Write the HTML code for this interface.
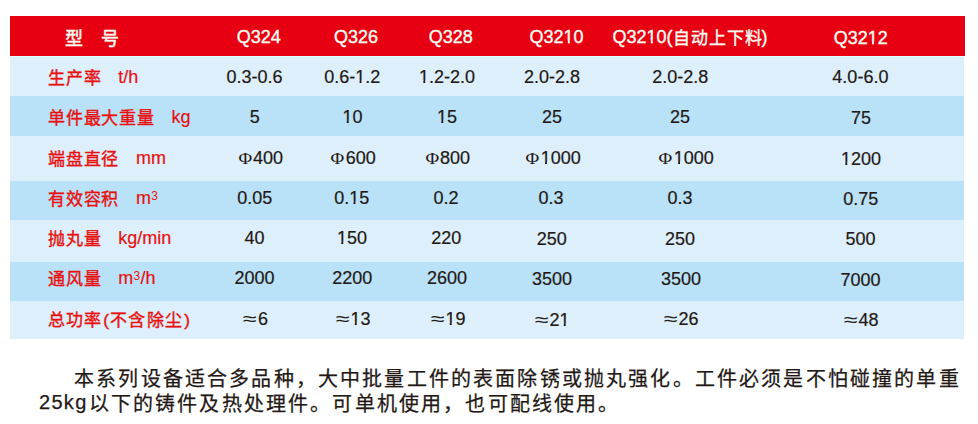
<!DOCTYPE html>
<html lang="zh-CN">
<head>
<meta charset="utf-8">
<style>
html,body{margin:0;padding:0;background:#fff;}
body{width:978px;height:424px;position:relative;overflow:hidden;font-family:"Liberation Sans",sans-serif;}
.bg{position:absolute;left:10px;width:954px;}
.hdr{top:16px;height:40px;width:955px;background:#E60012;}
.c{position:absolute;width:240px;margin-left:-120px;text-align:center;font-size:18px;line-height:20px;color:#231815;white-space:nowrap;-webkit-text-stroke:0.2px #231815;}
.h{color:#FFFBEF;font-size:18px;-webkit-text-stroke:0.4px #FFFBEF;}
.hc{font-size:17px;letter-spacing:1px;position:relative;top:1px;line-height:0;margin-right:-1px;}
.hb{-webkit-text-stroke:0.5px #FFFBEF;}
.lab{position:absolute;left:48px;font-size:17px;line-height:20px;color:#E8110F;white-space:nowrap;-webkit-text-stroke:0.4px #E8110F;letter-spacing:0.75px;}
.lab .u{font-size:18px;line-height:0;position:relative;top:-1.5px;letter-spacing:0;margin-left:17px;-webkit-text-stroke:0.2px #E8110F;}
.pl{margin:0 0 0 2px;}
.w{letter-spacing:1.5px;}
.pr{margin-left:0.5px;}
.lab sup{font-size:12px;vertical-align:4px;line-height:0;margin:0 0.2px 0 0.3px;-webkit-text-stroke:0;}
.phi{font-family:"Liberation Serif",serif;margin:0 2px 0 1.5px;font-size:17px;-webkit-text-stroke:0;display:inline-block;transform:scaleX(1.1);line-height:0;}
.ap{display:inline-block;transform:scaleX(1.4);margin:0 3px 0 2px;-webkit-text-stroke:0;}
.p{position:absolute;font-size:20px;line-height:24px;color:#231815;white-space:nowrap;letter-spacing:2.17px;-webkit-text-stroke:0.25px #231815;}
.one{display:inline-block;clip-path:polygon(0 0,100% 0,100% 13.4px,6.3px 13.4px,6.3px 100%,4.35px 100%,4.35px 13.4px,0 13.4px);}
.p .lat{position:relative;top:-2px;letter-spacing:1.3px;margin-right:1px;}
</style>
</head>
<body>
<div class="bg hdr"></div>
<div class="bg" style="top:56px;height:40px;background:#DDEFFB"></div>
<div class="bg" style="top:96px;height:40px;background:#B9E1F7"></div>
<div class="bg" style="top:136px;height:45px;background:#DDEFFB"></div>
<div class="bg" style="top:181px;height:39px;background:#B9E1F7"></div>
<div class="bg" style="top:220px;height:42px;background:#DDEFFB"></div>
<div class="bg" style="top:262px;height:39px;background:#B9E1F7"></div>
<div class="bg" style="top:301px;height:38px;background:#DDEFFB"></div>
<div class="bg" style="top:56px;height:1px;background:#E2FFFF"></div>
<div class="c h" style="left:74px;top:28px;"><span class="hb" style="position:relative;top:1px">型</span></div>
<div class="c h" style="left:109.5px;top:28px;"><span class="hb" style="position:relative;top:1px">号</span></div>
<div class="c h" style="left:258.7px;top:27px;">Q324</div>
<div class="c h" style="left:356px;top:27px;">Q326</div>
<div class="c h" style="left:450.7px;top:27px;">Q328</div>
<div class="c h" style="left:556.5px;top:27px;">Q32<span class="one">1</span>0</div>
<div class="c h" style="left:690px;top:27px;">Q32<span class="one">1</span>0(<span class="hc">自动上下料</span>)</div>
<div class="c h" style="left:860.7px;top:28px;">Q32<span class="one">1</span>2</div>
<div class="lab" style="top:69px;">生产率<span class="u">t/h</span></div>
<div class="c" style="left:254.5px;top:67px;">0.3-0.6</div>
<div class="c" style="left:352.2px;top:67px;">0.6-<span class="one">1</span>.2</div>
<div class="c" style="left:447px;top:67px;"><span class="one">1</span>.2-2.0</div>
<div class="c" style="left:552px;top:67px;">2.0-2.8</div>
<div class="c" style="left:680.2px;top:67px;">2.0-2.8</div>
<div class="c" style="left:860.4px;top:67px;">4.0-6.0</div>
<div class="lab" style="top:109px;">单件最大重量<span class="u">kg</span></div>
<div class="c" style="left:254.7px;top:107px;">5</div>
<div class="c" style="left:352.4px;top:107px;"><span class="one">1</span>0</div>
<div class="c" style="left:447px;top:107px;"><span class="one">1</span>5</div>
<div class="c" style="left:552px;top:107px;">25</div>
<div class="c" style="left:680px;top:107px;">25</div>
<div class="c" style="left:861px;top:108px;">75</div>
<div class="lab" style="top:150px;">端盘直径<span class="u">mm</span></div>
<div class="c" style="left:260px;top:148px;"><span class="phi">Φ</span>400</div>
<div class="c" style="left:352.8px;top:148px;"><span class="phi">Φ</span>600</div>
<div class="c" style="left:447px;top:148px;"><span class="phi">Φ</span>800</div>
<div class="c" style="left:552.7px;top:148px;"><span class="phi">Φ</span><span class="one">1</span>000</div>
<div class="c" style="left:685.8px;top:148px;"><span class="phi">Φ</span><span class="one">1</span>000</div>
<div class="c" style="left:861px;top:149px;"><span class="one">1</span>200</div>
<div class="lab" style="top:190px;">有效容积<span class="u">m<sup>3</sup></span></div>
<div class="c" style="left:254.7px;top:188px;">0.05</div>
<div class="c" style="left:351.7px;top:188px;">0.<span class="one">1</span>5</div>
<div class="c" style="left:446px;top:188px;">0.2</div>
<div class="c" style="left:551px;top:188px;">0.3</div>
<div class="c" style="left:680px;top:188px;">0.3</div>
<div class="c" style="left:860.8px;top:189px;">0.75</div>
<div class="lab" style="top:230px;">抛丸量<span class="u">kg/min</span></div>
<div class="c" style="left:254.4px;top:228px;">40</div>
<div class="c" style="left:352px;top:228px;"><span class="one">1</span>50</div>
<div class="c" style="left:446.3px;top:228px;">220</div>
<div class="c" style="left:551.7px;top:229px;">250</div>
<div class="c" style="left:680px;top:229px;">250</div>
<div class="c" style="left:860.5px;top:229px;">500</div>
<div class="lab" style="top:270px;">通风量<span class="u">m<sup>3</sup>/h</span></div>
<div class="c" style="left:254.5px;top:268px;">2000</div>
<div class="c" style="left:352.3px;top:268px;">2200</div>
<div class="c" style="left:447px;top:268px;">2600</div>
<div class="c" style="left:552px;top:269px;">3500</div>
<div class="c" style="left:681px;top:269px;">3500</div>
<div class="c" style="left:860.5px;top:270px;">7000</div>
<div class="lab" style="top:311px;">总功率<span class="pl">(</span><span class="w">不含除尘</span><span class="pr">)</span></div>
<div class="c" style="left:255.5px;top:309px;"><span class="ap">≈</span>6</div>
<div class="c" style="left:353px;top:309px;"><span class="ap">≈</span><span class="one">1</span>3</div>
<div class="c" style="left:448px;top:309px;"><span class="ap">≈</span><span class="one">1</span>9</div>
<div class="c" style="left:552px;top:310px;"><span class="ap">≈</span>2<span class="one">1</span></div>
<div class="c" style="left:681px;top:309px;"><span class="ap">≈</span>26</div>
<div class="c" style="left:861px;top:310px;"><span class="ap">≈</span>48</div>
<div class="p" style="left:74px;top:367px;">本系列设备适合多品种，大中批量工件的表面除锈或抛丸强化。工件必须是不怕碰撞的单重</div>
<div class="p" style="left:39px;top:392px;"><span class="lat">25kg</span>以下的铸件及热处理件。可单机使用，也可配线使用。</div>
</body>
</html>
